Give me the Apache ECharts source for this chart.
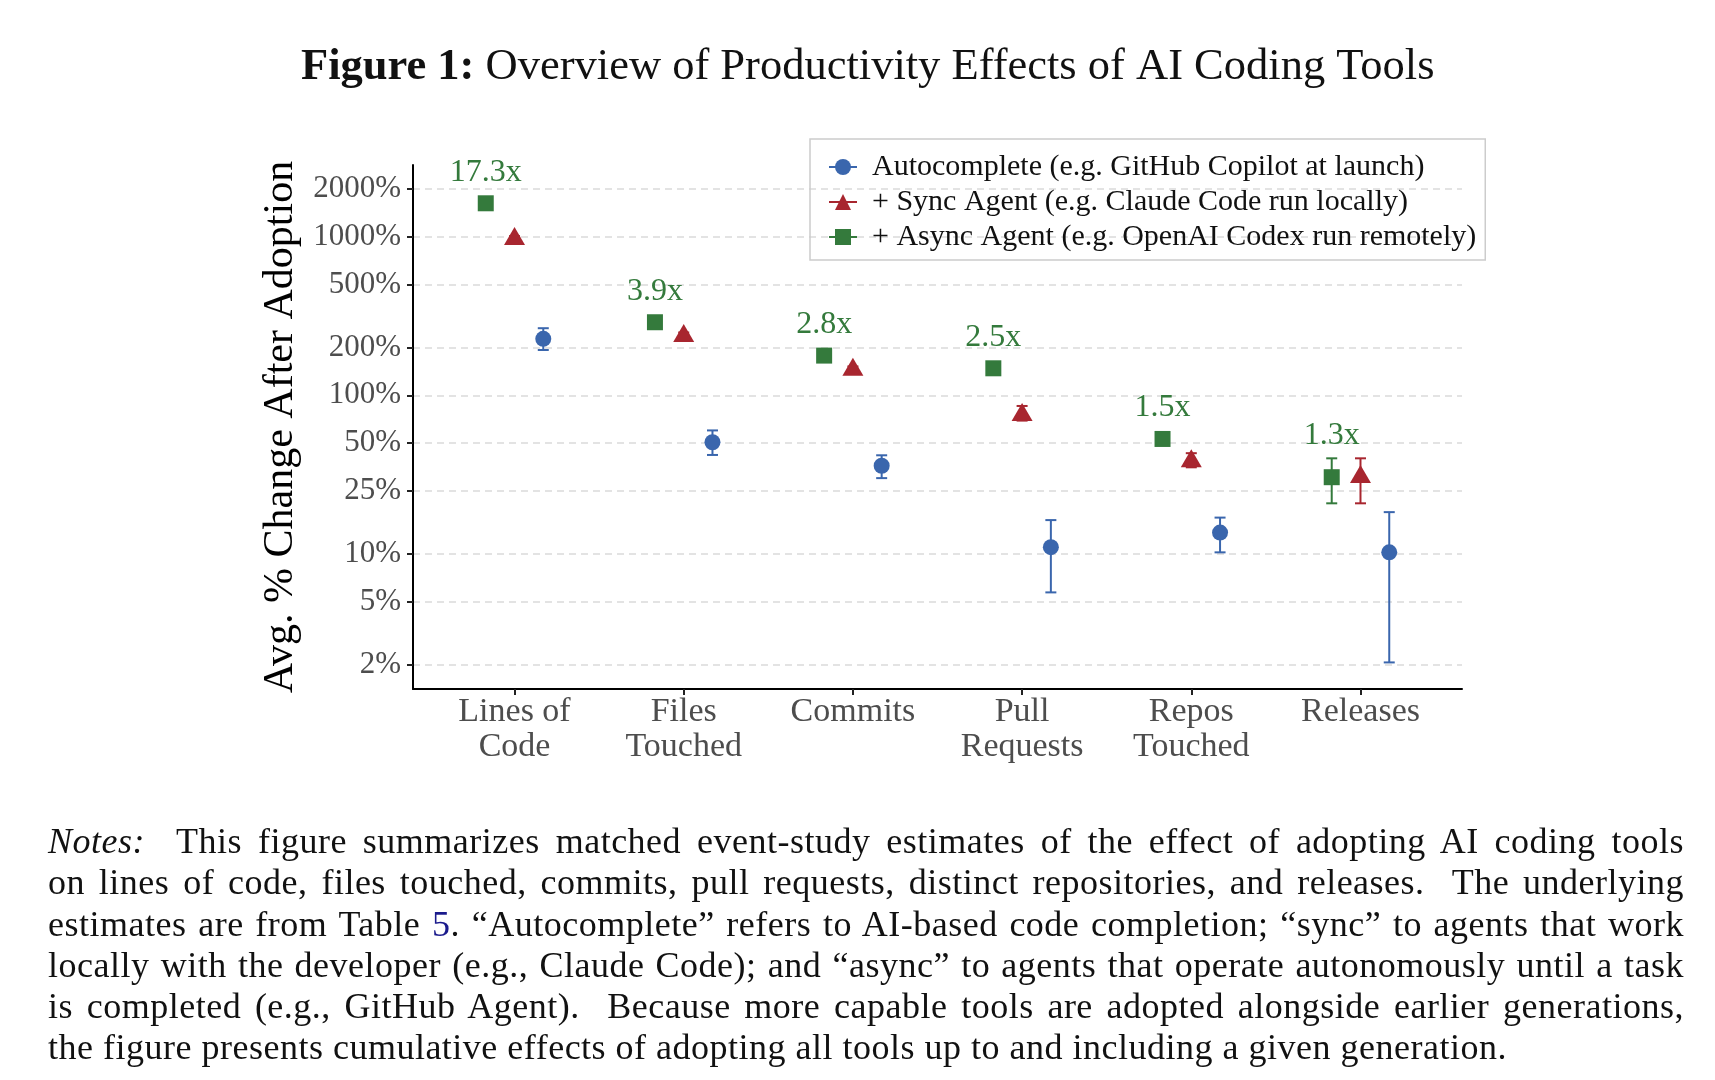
<!DOCTYPE html>
<html>
<head>
<meta charset="utf-8">
<title>Figure 1</title>
<script src="https://cdn.jsdelivr.net/npm/echarts@6/dist/echarts.min.js"></script>
<style>
  html, body { margin: 0; padding: 0; background: #fff; }
  #chart { position: absolute; left: 0; top: 0; width: 1715px; height: 1080px; }
  #notes {
    position: absolute; left: 48px; top: 821px; width: 1636px;
    font-family: "Liberation Serif", "Times New Roman", serif;
    font-size: 36px; line-height: 41.3px; letter-spacing: 0.5px; color: #111;
  }
  #notes div { text-align: justify; text-align-last: justify; }
  #notes div.last { text-align-last: left; }
  #notes .ref { color: #1a1a8c; }
</style>
</head>
<body>
<div id="chart"></div>
<div id="notes">
  <div><i>Notes:</i>&nbsp; This figure summarizes matched event-study estimates of the effect of adopting AI coding tools</div>
  <div>on lines of code, files touched, commits, pull requests, distinct repositories, and releases.&nbsp; The underlying</div>
  <div>estimates are from Table <span class="ref">5</span>. “Autocomplete” refers to AI-based code completion; “sync” to agents that work</div>
  <div>locally with the developer (e.g., Claude Code); and “async” to agents that operate autonomously until a task</div>
  <div>is completed (e.g., GitHub Agent).&nbsp; Because more capable tools are adopted alongside earlier generations,</div>
  <div class="last">the figure presents cumulative effects of adopting all tools up to and including a given generation.</div>
</div>
<script>
// values (percent change, log scale)
const categories = ['Lines of\nCode', 'Files\nTouched', 'Commits', 'Pull\nRequests', 'Repos\nTouched', 'Releases']
const yTicks = [2, 5, 10, 25, 50, 100, 200, 500, 1000, 2000]
const seriesNames = [
  'Autocomplete (e.g. GitHub Copilot at launch)',
  '+ Sync Agent (e.g. Claude Code run locally)',
  '+ Async Agent (e.g. OpenAI Codex run remotely)'
]
const ratioLabels = ['17.3x', '3.9x', '2.8x', '2.5x', '1.5x', '1.3x']

const autoVal = [227, 50.5, 35.9, 11.0, 13.6, 10.2]
const autoLo = [193, 42, 30, 5.7, 10.2, 2.06]
const autoHi = [265, 60, 41.8, 16.3, 16.9, 18.3]

const syncVal = [968, 237, 145, 75, 38.3, 30.5]
const syncLo = [930, 226, 139, 69.2, 35.1, 20.8]
const syncHi = [1010, 249, 152, 85.6, 43.1, 40]

const asyncVal = [1628, 289, 178, 148, 53, 30.4]
const asyncLo = [1570, 280, 172, 143, 51, 20.8]
const asyncHi = [1690, 298, 184, 153, 55, 40]

const BLUE = '#3a66ad'
const RED = '#a8262f'
const GREEN = '#347a3c'
const FONT = '"Liberation Serif", "Times New Roman", serif'
const DODGE = 0.17

function points(vals, d) {
  return vals.map((v, i) => [i + 1 + d, v])
}

function ranges(lo, hi, d) {
  return lo.map((l, i) => [i + 1 + d, l, hi[i]])
}

function errorBar(color) {
  return function (params, api) {
    const x = api.value(0)
    const a = api.coord([x, api.value(1)])
    const b = api.coord([x, api.value(2)])
    const w = 5.5
    const style = { stroke: color, lineWidth: 2, fill: null }
    return {
      type: 'group',
      children: [
        { type: 'line', shape: { x1: a[0], y1: a[1], x2: b[0], y2: b[1] }, style },
        { type: 'line', shape: { x1: a[0] - w, y1: a[1], x2: a[0] + w, y2: a[1] }, style },
        { type: 'line', shape: { x1: b[0] - w, y1: b[1], x2: b[0] + w, y2: b[1] }, style }
      ]
    }
  }
}

function ratioText(params, api) {
  const x = api.value(0)
  const c = api.coord([x, api.value(1)])
  const h = api.coord([x, api.value(2)])
  const top = Math.min(c[1] - 8, h[1])
  return {
    type: 'text',
    x: c[0],
    y: top - 23,
    style: {
      text: ratioLabels[params.dataIndex],
      fill: GREEN,
      font: '32px ' + FONT,
      align: 'center',
      verticalAlign: 'middle'
    }
  }
}

function pointSeries(name, vals, d, color, symbol, size, offset) {
  return {
    name,
    type: 'line',
    data: points(vals, d),
    symbol,
    symbolSize: size,
    symbolOffset: offset || [0, 0],
    showSymbol: true,
    lineStyle: { opacity: 0 },
    itemStyle: { color, opacity: 1 },
    z: 5,
    silent: true,
    animation: false
  }
}

function barSeries(lo, hi, d, color) {
  return {
    type: 'custom',
    renderItem: errorBar(color),
    data: ranges(lo, hi, d),
    encode: { x: 0, y: [1, 2] },
    z: 3,
    silent: true,
    animation: false
  }
}

const chart = echarts.init(document.getElementById('chart'))

chart.setOption({
  backgroundColor: '#fff',
  animation: false,
  title: {
    text: '{b|Figure 1:} Overview of Productivity Effects of AI Coding Tools',
    left: 296,
    top: 40,
    textStyle: {
      fontFamily: FONT,
      fontSize: 44.5,
      fontWeight: 'normal',
      color: '#111',
      rich: {
        b: { fontFamily: FONT, fontSize: 44.5, fontWeight: 'bold', color: '#111' }
      }
    }
  },
  legend: {
    orient: 'vertical',
    left: 810,
    top: 139,
    data: seriesNames,
    itemWidth: 28,
    itemHeight: 20,
    itemGap: 5,
    padding: [13, 9, 8, 18],
    borderColor: '#cccccc',
    borderWidth: 1.5,
    selectedMode: false,
    lineStyle: { opacity: 1, width: 2 },
    textStyle: { fontFamily: FONT, fontSize: 30, color: '#111', padding: [0, 0, 0, 10] }
  },
  grid: { left: 413, right: 253, top: 165, bottom: 391 },
  xAxis: {
    type: 'value',
    min: 0.4,
    max: 6.6,
    axisLine: { show: true, lineStyle: { color: '#000', width: 2 } },
    axisTick: { show: true, customValues: [1, 2, 3, 4, 5, 6], length: 6, lineStyle: { color: '#222', width: 2 } },
    axisLabel: {
      customValues: [1, 2, 3, 4, 5, 6],
      formatter: (v) => categories[Math.round(v) - 1],
      fontFamily: FONT,
      fontSize: 34,
      lineHeight: 35,
      color: '#4d4d4d',
      margin: 6
    },
    splitLine: { show: false }
  },
  yAxis: {
    type: 'log',
    logBase: 10,
    min: 1.40,
    max: 2840,
    name: 'Avg. % Change After Adoption',
    nameLocation: 'middle',
    nameGap: 109,
    nameTextStyle: { fontFamily: FONT, fontSize: 42, color: '#000' },
    axisLine: { show: true, lineStyle: { color: '#000', width: 2 } },
    axisTick: { show: true, customValues: yTicks, length: 6, lineStyle: { color: '#222', width: 2 } },
    axisLabel: {
      customValues: yTicks,
      formatter: (v) => Math.round(v) + '%',
      fontFamily: FONT,
      fontSize: 31,
      color: '#4d4d4d',
      margin: 12
    },
    splitLine: { show: true, lineStyle: { color: '#dadada', width: 1.5, type: [7, 5] } }
  },
  series: [
    barSeries(autoLo, autoHi, DODGE, BLUE),
    barSeries(syncLo, syncHi, 0, RED),
    barSeries(asyncLo, asyncHi, -DODGE, GREEN),
    pointSeries(seriesNames[0], autoVal, DODGE, BLUE, 'circle', 16),
    pointSeries(seriesNames[1], syncVal, 0, RED, 'triangle', [21, 18], [0, -3]),
    pointSeries(seriesNames[2], asyncVal, -DODGE, GREEN, 'rect', 16),
    {
      type: 'custom',
      renderItem: ratioText,
      data: asyncVal.map((v, i) => [i + 1 - DODGE, v, asyncHi[i]]),
      encode: { x: 0, y: 1 },
      z: 6,
      silent: true,
      animation: false
    }
  ]
})
</script>
</body>
</html>
